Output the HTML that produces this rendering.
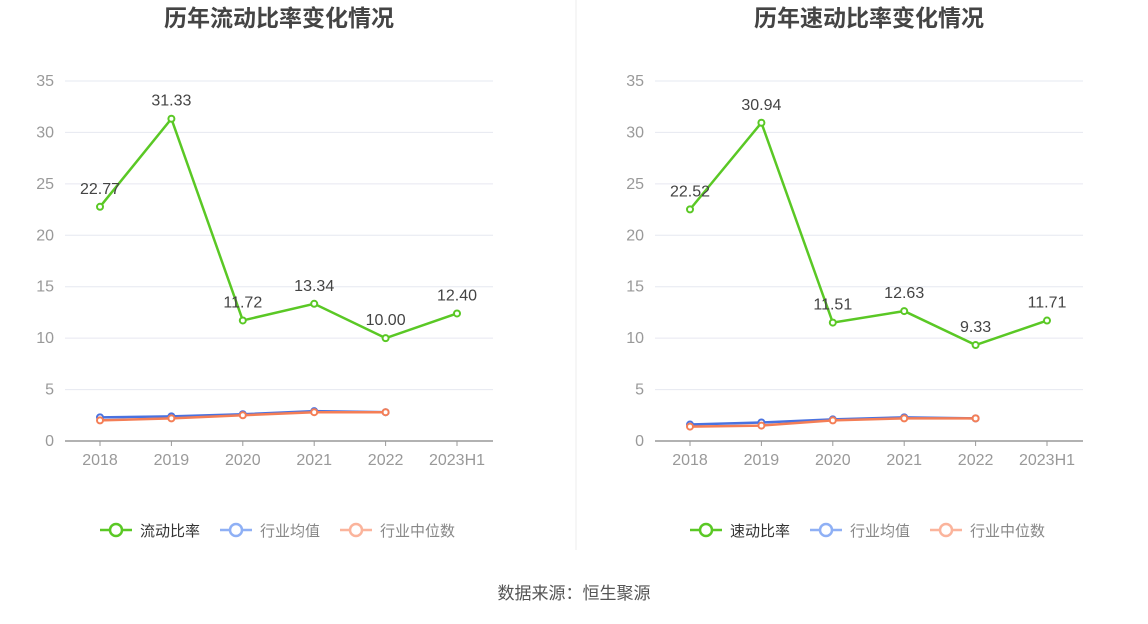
<!DOCTYPE html>
<html><head><meta charset="utf-8"><style>
body{margin:0;background:#fff;width:1148px;height:619px;overflow:hidden;font-family:"Liberation Sans","Noto Sans CJK SC",sans-serif;}
</style></head><body>
<svg id="s" width="1148" height="619" xmlns="http://www.w3.org/2000/svg" font-family="Liberation Sans, Noto Sans CJK SC, sans-serif"></svg>
<script>
const s=document.getElementById('s');let h='';
h+='<line x1="576" y1="0" x2="576" y2="550" stroke="#eee"/>';
function chart(ox,title,name,main,avg,med){
 const xs=[0,1,2,3,4,5].map(i=>ox+100+i*71.4);
 const y=v=>441-v*10.286;
 h+=`<text x="${ox+279}" y="26" text-anchor="middle" font-size="23" font-weight="bold" fill="#444">${title}</text>`;
 for(let k=0;k<=7;k++){const yy=y(k*5);
  if(k>0)h+=`<line x1="${ox+65}" x2="${ox+493}" y1="${yy}" y2="${yy}" stroke="#e6e8f0"/>`;
  h+=`<text x="${ox+54}" y="${yy+5}" text-anchor="end" font-size="16" fill="#999">${k*5}</text>`;}
 h+=`<line x1="${ox+65}" x2="${ox+493}" y1="441" y2="441" stroke="#999" stroke-width="1.5"/>`;
 const lab=['2018','2019','2020','2021','2022','2023H1'];
 xs.forEach((x,i)=>{h+=`<line x1="${x}" x2="${x}" y1="441" y2="446" stroke="#999"/><text x="${x}" y="465" text-anchor="middle" font-size="16" fill="#999">${lab[i]}</text>`;});
 function line(d,c,lw){h+=`<polyline fill="none" stroke="${c}" stroke-width="${lw}" points="${d.map((v,i)=>xs[i]+','+y(v)).join(' ')}"/>`;
  d.forEach((v,i)=>h+=`<circle cx="${xs[i]}" cy="${y(v)}" r="3" fill="#fff" stroke="${c}" stroke-width="2"/>`);}
 line(avg,'#4a72e0',2.5);line(med,'#f47e56',2.5);line(main,'#5ac825',2.5);
 main.forEach((v,i)=>h+=`<text x="${xs[i]}" y="${y(v)-13}" text-anchor="middle" font-size="16" fill="#444">${v.toFixed(2)}</text>`);
 const L=[[ox+100,'#5ac825',name,'#333'],[ox+220,'#8fb0f5','行业均值','#888'],[ox+340,'#fbb49c','行业中位数','#888']];
 L.forEach(([x,c,t,tc])=>{h+=`<line x1="${x}" x2="${x+32}" y1="530" y2="530" stroke="${c}" stroke-width="2.5"/><circle cx="${x+16}" cy="530" r="6" fill="#fff" stroke="${c}" stroke-width="2.5"/><text x="${x+40}" y="536" font-size="15" fill="${tc}">${t}</text>`;});
}
chart(0,'历年流动比率变化情况','流动比率',[22.77,31.33,11.72,13.34,10.00,12.40],[2.3,2.4,2.6,2.9,2.8],[2.0,2.2,2.5,2.8,2.8]);
chart(590,'历年速动比率变化情况','速动比率',[22.52,30.94,11.51,12.63,9.33,11.71],[1.6,1.8,2.1,2.3,2.2],[1.4,1.5,2.0,2.2,2.2]);
h+='<text x="574" y="599" text-anchor="middle" font-size="17" fill="#555">数据来源：恒生聚源</text>';
s.innerHTML=h;
</script>
</body></html>
